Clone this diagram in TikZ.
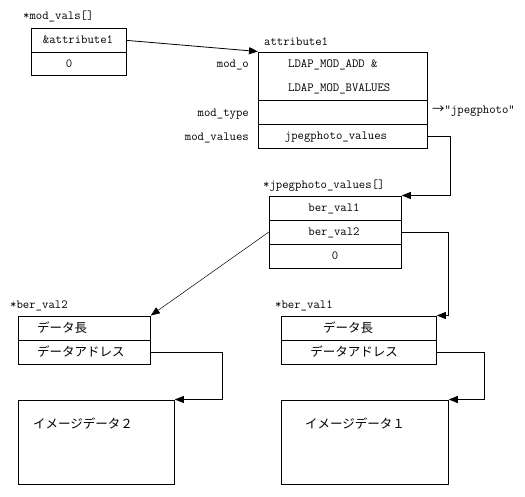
\documentclass[tikz,border=0pt]{standalone}
\usepackage{fontspec}
\newfontfamily\jpfam{Noto Sans CJK JP}
\usetikzlibrary{arrows.meta}
\newcommand\latsz{\ttfamily\fontsize{12.4}{14}\selectfont}
\newcommand\jpsz{\jpfam\fontsize{12.5}{14}\selectfont}
\tikzset{
  cell/.style={draw, line width=0.8pt, inner sep=0pt, anchor=north west, minimum width=#1},
  txt/.style={inner sep=0pt, font=\latsz, text height=7.5pt, text depth=0pt},
  jtxt/.style={inner sep=0pt, font=\jpsz, text height=9.5pt, text depth=0pt},
  conn/.style={line width=0.8pt, -{Triangle[length=9pt,width=7pt]}},
}
\begin{document}
\begin{tikzpicture}[x=1pt,y=-1pt]
\useasboundingbox (0,0) rectangle (525,496);
% mod_vals
\node[cell=95pt, minimum height=24pt] (mv1) at (31,28) {};
\node[cell=95pt, minimum height=23pt] (mv2) at (31,52) {};
\node[txt, anchor=west] (lmv) at (23,16) {*mod\_vals[]};
\node[txt] (tmv1) at (78,40) {\&attribute1};
\node[txt] (tmv2) at (69,63.5) {0};
% attribute1
\node[cell=169pt, minimum height=48pt] (at1) at (258,51.5) {};
\node[cell=169pt, minimum height=24pt] (at2) at (258,99.5) {};
\node[cell=169pt, minimum height=24pt] (at3) at (258,123.5) {};
\node[txt, anchor=west] (lat) at (264,41.5) {attribute1};
\node[txt, anchor=west] (tat1a) at (288,64) {LDAP\_MOD\_ADD \&};
\node[txt, anchor=west] (tat1b) at (288,88) {LDAP\_MOD\_BVALUES};
\node[txt] (tat3) at (336,135.5) {jpegphoto\_values};
\node[txt, anchor=east] (lmo) at (249,64) {mod\_o};
\node[txt, anchor=east] (lmt) at (249,112.5) {mod\_type};
\node[txt, anchor=east] (lmvs) at (249,136.5) {mod\_values};
\node[txt, anchor=west] (ljp) at (432,110) {{\jpfam →}“jpegphoto“};
% jpegphoto_values[]
\node[cell=132pt, minimum height=24pt] (jp1) at (269,195.5) {};
\node[cell=132pt, minimum height=24pt] (jp2) at (269,219.5) {};
\node[cell=132pt, minimum height=24pt] (jp3) at (269,243.5) {};
\node[txt, anchor=west] (ljv) at (263,185) {*jpegphoto\_values[]};
\node[txt] (tjp1) at (334,207.5) {ber\_val1};
\node[txt] (tjp2) at (334,231.5) {ber\_val2};
\node[txt] (tjp3) at (335,255.5) {0};
% ber_val2
\node[cell=132pt, minimum height=24pt] (bv2a) at (18,315.5) {};
\node[cell=132pt, minimum height=24pt] (bv2b) at (18,339.5) {};
\node[txt, anchor=west] (lbv2) at (10,305) {*ber\_val2};
\node[jtxt, anchor=west] (tbv2a) at (37,327.5) {データ長};
\node[jtxt, anchor=west] (tbv2b) at (37,351.5) {データアドレス};
% ber_val1
\node[cell=155pt, minimum height=24pt] (bv1a) at (281,315.5) {};
\node[cell=155pt, minimum height=24pt] (bv1b) at (281,339.5) {};
\node[txt, anchor=west] (lbv1) at (275,305) {*ber\_val1};
\node[jtxt] (tbv1a) at (348,327.5) {データ長};
\node[jtxt] (tbv1b) at (354,351.5) {データアドレス};
% image data
\node[cell=156pt, minimum height=84pt] (img2) at (18,399.5) {};
\node[cell=167pt, minimum height=84pt] (img1) at (281,399.5) {};
\node[jtxt, anchor=west] (timg2) at (33,424) {イメージデータ２};
\node[jtxt, anchor=west] (timg1) at (305,424) {イメージデータ１};
% connectors
\draw[conn] (mv1.east) -- (at1.north west);
\draw[conn] (at3.east) -- ++(23,0) |- (jp1.north east);
\draw[conn] (jp2.east) -- ++(47,0) |- (bv1a.north east);
\draw[conn, line width=0.5pt] (jp2.west) -- (bv2a.north east);
\draw[conn] (bv2b.east) -- ++(72,0) |- (img2.north east);
\draw[conn] (bv1b.east) -- ++(48,0) |- (img1.north east);
\end{tikzpicture}
\end{document}
